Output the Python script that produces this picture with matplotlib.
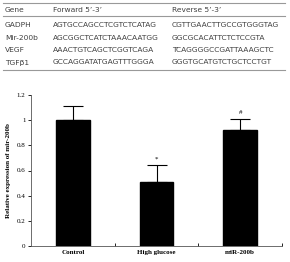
import matplotlib
matplotlib.use("Agg")
import matplotlib.pyplot as plt
from matplotlib.lines import Line2D

# primer table
genes = ["GADPH", "Mir-200b", "VEGF", "TGF\u03b21"]
forward = ["AGTGCCAGCCTCGTCTCATAG", "AGCGGCTCATCTAAACAATGG",
           "AAACTGTCAGCTCGGTCAGA", "GCCAGGATATGAGTTTGGGA"]
reverse = ["CGTTGAACTTGCCGTGGGTAG", "GGCGCACATTCTCTCCGTA",
           "TCAGGGGCCGATTAAAGCTC", "GGGTGCATGTCTGCTCCTGT"]
headers = ["Gene", "Forward 5\u2019-3\u2019", "Reverse 5\u2019-3\u2019"]

# bar chart
groups = ["Control", "High glucose", "miR-200b"]
values = [1.0, 0.51, 0.92]
errors = [0.11, 0.13, 0.09]
marks = ["", "*", "#"]

W, H = 290, 262
fig = plt.figure(figsize=(W / 100, H / 100), dpi=100)

def fy(y):
    return 1 - y / H

# table lines and text
for y in [2.5, 16, 70]:
    fig.add_artist(Line2D([3 / W, 285 / W], [fy(y), fy(y)], color="#999999", lw=0.8))
col_x = [5, 53, 172]
tkw = dict(fontsize=5.4, family="DejaVu Sans", color="#404040", va="center")
for cx, h in zip(col_x, headers):
    fig.text(cx / W, fy(10), h, **tkw)
for i, (g, f, r) in enumerate(zip(genes, forward, reverse)):
    y = fy(25 + i * 12.5)
    fig.text(col_x[0] / W, y, g, **tkw)
    fig.text(col_x[1] / W, y, f, **tkw)
    fig.text(col_x[2] / W, y, r, **tkw)

ax = fig.add_axes([31 / W, fy(246), (282 - 31) / W, (246 - 95) / H])
x = range(len(groups))
ax.bar(x, values, width=0.4, color="black", edgecolor="black", zorder=2)
ax.errorbar(x, values, yerr=[[0] * 3, errors], fmt="none", ecolor="black",
            elinewidth=0.8, capsize=7, capthick=0.8, zorder=1)
for xi, v, e, m in zip(x, values, errors, marks):
    if m:
        ax.text(xi, v + e + 0.03, m, ha="center", va="bottom", fontsize=5,
                family="Liberation Serif")

ax.set_xlim(-0.5, 2.5)
ax.set_ylim(0, 1.2)
ax.set_yticks([0, 0.2, 0.4, 0.6, 0.8, 1.0, 1.2])
ax.set_yticklabels(["0", "0.2", "0.4", "0.6", "0.8", "1", "1.2"])
ax.set_xticks(list(x))
ax.set_xticklabels(groups)
ax.set_xticks([0.5, 1.5, 2.5], minor=True)
ax.tick_params(axis="x", which="major", length=0, pad=3)
ax.tick_params(axis="x", which="minor", length=2, width=0.6, direction="in")
ax.tick_params(axis="y", length=2, width=0.6, pad=2)
for lab in ax.get_xticklabels() + ax.get_yticklabels():
    lab.set_fontfamily("Liberation Serif")
    lab.set_fontsize(5)
for lab in ax.get_xticklabels():
    lab.set_fontweight("bold")
ax.set_ylabel("Relative expression of mir-200b", fontsize=5, family="Liberation Serif",
              fontweight="bold", labelpad=4)
ax.spines["top"].set_visible(False)
ax.spines["right"].set_visible(False)
for s in ["left", "bottom"]:
    ax.spines[s].set_linewidth(0.6)
    ax.spines[s].set_color("#555555")

fig.savefig("out.png", dpi=100)
